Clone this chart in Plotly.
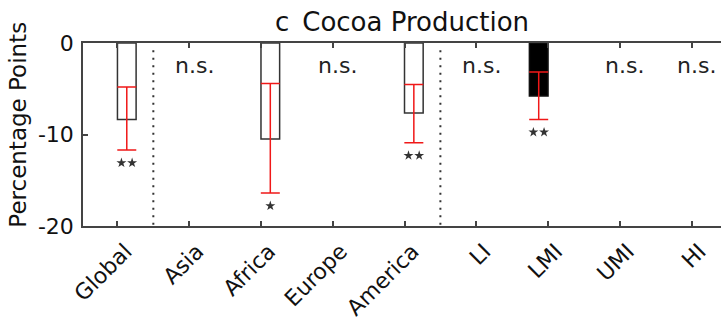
import plotly.graph_objects as go

# ---- data ----
categories = ["Global", "Asia", "Africa", "Europe", "America", "LI", "LMI", "UMI", "HI"]
white_vals = [-8.35, None, -10.5, None, -7.65, None, None, None, None]
white_err_up = [3.55, None, 6.07, None, 3.11, None, None, None, None]
white_err_down = [3.35, None, 5.9, None, 3.25, None, None, None, None]
black_vals = [None, None, None, None, None, None, -5.8, None, None]
black_err_up = [None, None, None, None, None, None, 2.64, None, None]
black_err_down = [None, None, None, None, None, None, 2.55, None, None]
significance = ["**", "n.s.", "*", "n.s.", "**", "n.s.", "**", "n.s.", "n.s."]
y_ticks = [0, -10, -20]
y_ticktext = ["0", "-10", "-20"]
group_breaks_after = ["Global", "America"]

FONT = "DejaVu Sans"
BW = 0.26
idx = list(range(len(categories)))

fig = go.Figure()

fig.add_trace(go.Bar(
    x=idx, y=white_vals, width=BW, offset=0,
    marker=dict(color="white", line=dict(color="#333333", width=1.5)),
    error_y=dict(type="data", symmetric=False, array=white_err_up,
                 arrayminus=white_err_down, color="#f01818", thickness=1.5, width=9.5),
    showlegend=False,
))
fig.add_trace(go.Bar(
    x=idx, y=black_vals, width=BW, offset=-BW,
    marker=dict(color="black", line=dict(color="#111111", width=1.5)),
    error_y=dict(type="data", symmetric=False, array=black_err_up,
                 arrayminus=black_err_down, color="#f01818", thickness=1.5, width=9.5),
    showlegend=False,
))

# significance stars below the lower error bound; n.s. labels near the top
star_x, star_y = [], []
for i, s in enumerate(significance):
    if s == "n.s.":
        fig.add_annotation(x=i, y=-2.43, xref="x", yref="y", text="n.s.",
                           showarrow=False, xshift=5,
                           font=dict(family=FONT, size=22, color="#222222"))
        continue
    if white_vals[i] is not None:
        c = i + BW / 2
        low = white_vals[i] - white_err_down[i]
    else:
        c = i - BW / 2
        low = black_vals[i] - black_err_down[i]
    n = len(s)
    for k in range(n):
        star_x.append(c + (k - (n - 1) / 2) * 0.149)
        star_y.append(low - 1.4)

fig.add_trace(go.Scatter(
    x=star_x, y=star_y, mode="markers",
    marker=dict(symbol="star", size=7.5, color="#333333"),
    showlegend=False, hoverinfo="skip",
))

for name in group_breaks_after:
    xb = categories.index(name) + 0.5
    fig.add_shape(type="line", x0=xb, x1=xb, y0=-0.8, y1=-20, xref="x", yref="y",
                  line=dict(color="#333333", width=2, dash="2px,5.5px"))

fig.update_layout(
    width=721, height=322,
    margin=dict(l=83, r=0, t=43, b=96),
    paper_bgcolor="white", plot_bgcolor="white",
    barmode="overlay",
    font=dict(family=FONT, color="#222222"),
    title=dict(text="c\u2002Cocoa Production", x=0.5, xref="paper", xanchor="center",
               y=1 - 22 / 322, yref="container", yanchor="middle",
               font=dict(family=FONT, size=26, color="#111111")),
)
fig.update_xaxes(
    range=[-0.48, 8.41], tickmode="array", tickvals=idx, ticktext=categories,
    tickangle=-45, ticks="inside", ticklen=5, tickwidth=1.5, tickcolor="#444444",
    showline=True, linecolor="#444444", linewidth=1.5, mirror="ticks",
    showgrid=False, zeroline=False, ticklabelshift=8, ticklabelstandoff=2,
    tickfont=dict(family=FONT, size=22, color="#111111"),
)
fig.update_yaxes(
    range=[-20, 0], tickmode="array", tickvals=y_ticks, ticktext=y_ticktext,
    ticks="inside", ticklen=5, tickwidth=1.5, tickcolor="#444444",
    showline=True, linecolor="#444444", linewidth=1.5, mirror=False,
    showgrid=False, zeroline=False, ticklabelstandoff=3,
    tickfont=dict(family=FONT, size=22, color="#111111"),
)
fig.add_annotation(text="Percentage Points", xref="paper", yref="paper",
                   x=(18.5 - 83) / 638, y=(226 - 125) / 183.3, textangle=-90,
                   xanchor="center", yanchor="middle", showarrow=False,
                   font=dict(family=FONT, size=23, color="#111111"))

fig.write_html("out.html", config={"displayModeBar": False},
               post_script="document.body.style.margin='0px';")
